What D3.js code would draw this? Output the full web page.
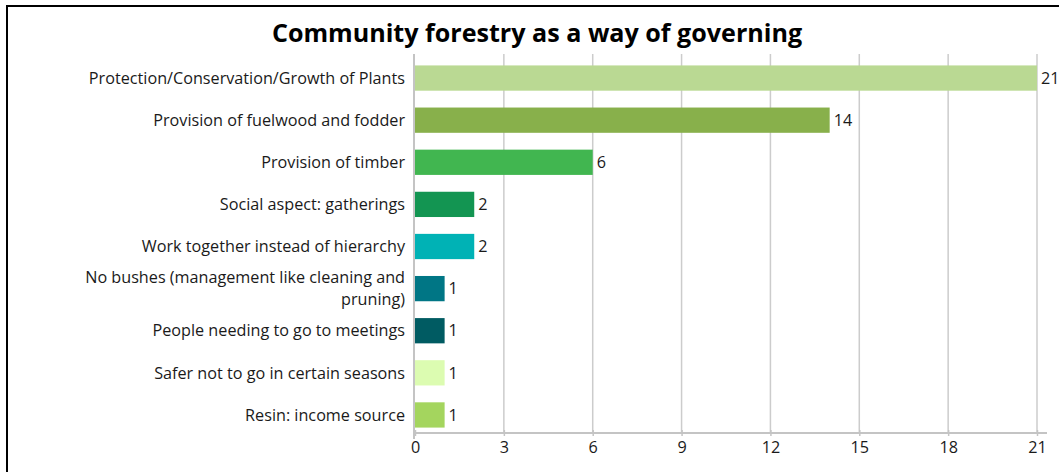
<!DOCTYPE html>
<html>
<head>
<meta charset="utf-8">
<script src="https://cdn.jsdelivr.net/npm/d3@7"></script>
<style>
  body { margin: 0; background: #fff; }
  svg { display: block; font-family: "Open Sans", "Noto Sans", sans-serif; }
</style>
</head>
<body>
<script>
// chart data
const categories = [
  "Protection/Conservation/Growth of Plants",
  "Provision of fuelwood and fodder",
  "Provision of timber",
  "Social aspect: gatherings",
  "Work together instead of hierarchy",
  "No bushes (management like cleaning and pruning)",
  "People needing to go to meetings",
  "Safer not to go in certain seasons",
  "Resin: income source"
];
const values = [21, 14, 6, 2, 2, 1, 1, 1, 1];
const barColors = ["#bad993", "#88b04b", "#41b650", "#139552", "#00b2b5", "#007685", "#005b62", "#dcfcb1", "#a4d55e"];
const xTicks = [0, 3, 6, 9, 12, 15, 18, 21];
const title = "Community forestry as a way of governing";

// labels that wrap onto two lines
const labelLines = {
  "No bushes (management like cleaning and pruning)": ["No bushes (management like cleaning and", "pruning)"]
};

function drawChart() {
  var w = 1059, h = 472;
  var left = 415, right = 1037, top = 54, bottom = 433;
  var fs = "16.2px";

  var svg = d3.select("body").append("svg")
    .attr("width", w)
    .attr("height", h);

  // outer frame
  svg.append("rect")
    .attr("x", 7).attr("y", 6)
    .attr("width", w + 20).attr("height", h + 20)
    .attr("fill", "none")
    .attr("stroke", "#000")
    .attr("stroke-width", 2);

  svg.append("text")
    .attr("x", 537).attr("y", 42)
    .attr("text-anchor", "middle")
    .attr("font-size", "25.1px")
    .attr("font-weight", "bold")
    .attr("fill", "#000")
    .text(title);

  var x = d3.scaleLinear().domain([0, 21]).range([left, right]);
  var y = d3.scaleBand().domain(categories).range([57, 436]).paddingInner(0.4).paddingOuter(0.2);

  // vertical gridlines
  svg.append("g").selectAll("line")
    .data(xTicks.slice(1))
    .enter()
    .append("line")
    .attr("x1", d => x(d)).attr("x2", d => x(d))
    .attr("y1", top).attr("y2", bottom)
    .attr("stroke", "#cccccc")
    .attr("stroke-width", 1.5);

  // x axis
  var xAxis = d3.axisBottom(x).tickValues(xTicks).tickSize(6).tickSizeOuter(0);
  var gx = svg.append("g")
    .attr("transform", "translate(0," + bottom + ")")
    .call(xAxis);
  gx.select(".domain").attr("stroke", "#c4c4c4").attr("stroke-width", 2).attr("d", "M" + (left - 1) + ",0H" + (right + 10));
  gx.selectAll(".tick line").attr("stroke", "#c4c4c4").attr("stroke-width", 1.5).attr("y1", -3).attr("y2", 3);
  gx.selectAll(".tick text")
    .attr("y", 8)
    .attr("font-size", fs)
    .attr("font-family", "'Open Sans', 'Noto Sans', sans-serif")
    .attr("fill", "#1a1a1a");

  // y axis line
  svg.append("line")
    .attr("x1", left - 1).attr("x2", left - 1)
    .attr("y1", top).attr("y2", bottom + 6)
    .attr("stroke", "#c4c4c4")
    .attr("stroke-width", 2);

  // bars
  svg.append("g").selectAll("rect")
    .data(categories)
    .enter()
    .append("rect")
    .attr("x", left)
    .attr("y", d => y(d))
    .attr("width", (d, i) => x(values[i]) - left)
    .attr("height", y.bandwidth())
    .attr("fill", (d, i) => barColors[i]);

  // value labels
  svg.append("g").selectAll("text")
    .data(categories)
    .enter()
    .append("text")
    .attr("x", (d, i) => x(values[i]) + 4)
    .attr("y", d => y(d) + y.bandwidth() / 2)
    .attr("dy", "0.35em")
    .attr("font-size", fs)
    .attr("fill", "#1a1a1a")
    .text((d, i) => values[i]);

  // category labels
  var labels = svg.append("g").selectAll("text")
    .data(categories)
    .enter()
    .append("text")
    .attr("text-anchor", "end")
    .attr("font-size", fs)
    .attr("fill", "#1a1a1a")
    .attr("y", d => y(d) + y.bandwidth() / 2);

  labels.each(function(d) {
    var lines = labelLines[d] || [d];
    var t = d3.select(this);
    lines.forEach(function(line, j) {
      t.append("tspan")
        .attr("x", left - 10)
        .attr("dy", j === 0 ? (0.35 - (lines.length - 1) * 0.68) + "em" : "1.36em")
        .text(line);
    });
  });
}

window.onload = function() {
  drawChart();
};
</script>
</body>
</html>
